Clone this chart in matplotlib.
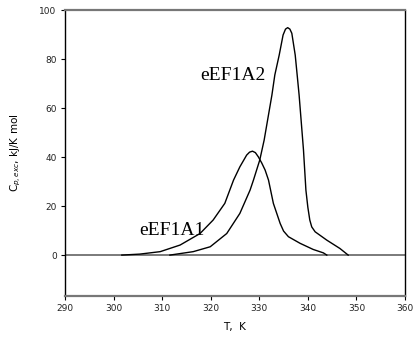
import matplotlib
matplotlib.use("Agg")
import matplotlib.pyplot as plt

# Data
t_a1 = [301.7, 305.4, 309.6, 313.7, 317.8, 320.5, 322.9, 324.7, 326.0, 327.4, 328.0, 328.6,
        329.2, 329.8, 330.5, 331.2, 331.9, 332.9, 334.3, 335.0, 336.0, 338.4, 341.1, 343.2, 343.9]
c_a1 = [0.0, 0.4, 1.4, 4.1, 8.8, 14.3, 21.1, 30.6, 36.0, 40.8, 42.0, 42.4,
        41.8, 40.1, 37.6, 34.7, 30.6, 21.1, 12.9, 9.8, 7.5, 4.8, 2.3, 0.9, 0.0]

t_a2 = [311.6, 316.4, 319.9, 323.3, 326.0, 328.1, 328.8, 330.1, 331.0, 332.6, 333.2, 334.1,
        334.9, 335.4, 335.85, 336.3, 336.7, 337.4, 337.8, 338.2, 339.1, 339.6, 340.0, 340.4,
        340.8, 341.5, 343.9, 346.6, 348.3]
c_a2 = [0.0, 1.4, 3.4, 8.8, 17.0, 26.5, 30.6, 38.8, 46.9, 65.3, 73.5, 81.6,
        89.8, 92.2, 92.8, 92.2, 90.5, 81.6, 73.5, 65.3, 42.9, 26.5, 19.5, 14.3,
        11.5, 9.5, 6.1, 2.7, 0.0]

x_ticks = [290, 300, 310, 320, 330, 340, 350, 360]
y_ticks = [0, 20, 40, 60, 80, 100]

fig = plt.figure(figsize=(4.13, 3.39), dpi=100)
ax = fig.add_axes([0.1574, 0.1268, 0.8232, 0.8437])

ax.plot(t_a1, c_a1, color="black", lw=1.0)
ax.plot(t_a2, c_a2, color="black", lw=1.0)
ax.axhline(0, color="#707070", lw=1.3, zorder=1)

ax.set_xlim(290, 360)
ax.set_ylim(-16.7, 100)
ax.set_xticks(x_ticks)
ax.set_yticks(y_ticks)
ax.tick_params(direction="out", length=3, width=0.8, labelsize=6.5,
               pad=3, colors="black")
for lab in ax.get_xticklabels() + ax.get_yticklabels():
    lab.set_family("DejaVu Sans")
    lab.set_color("#222222")

ax.spines["top"].set_color("#777777")
ax.spines["top"].set_linewidth(1.6)
ax.spines["bottom"].set_color("#777777")
ax.spines["bottom"].set_linewidth(1.6)
ax.spines["left"].set_color("black")
ax.spines["left"].set_linewidth(1.0)
ax.spines["right"].set_color("black")
ax.spines["right"].set_linewidth(1.0)

ax.set_xlabel("T,  K", fontsize=7.5, family="DejaVu Sans", labelpad=6)
ax.set_ylabel(r"C$_{p,exc}$, kJ/K mol", fontsize=7.5, family="DejaVu Sans", labelpad=12)

ax.text(317.8, 71.4, "eEF1A2", family="Liberation Serif", fontsize=14,
        ha="left", va="baseline")
ax.text(305.3, 8.2, "eEF1A1", family="Liberation Serif", fontsize=14,
        ha="left", va="baseline")

fig.savefig("out.png", dpi=100)
